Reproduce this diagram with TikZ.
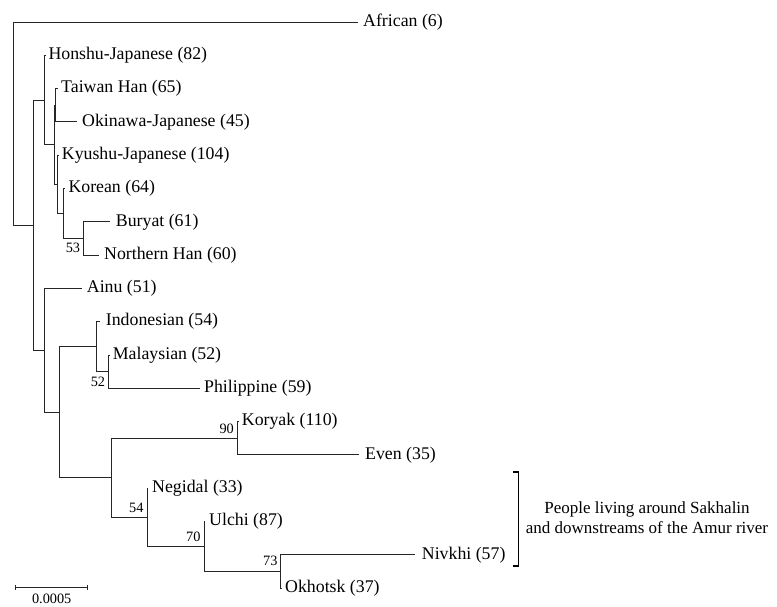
\documentclass[tikz,border=0pt]{standalone}
\usepackage{fontspec}
\setmainfont{Liberation Serif}
\begin{document}
\begin{tikzpicture}[x=1pt,y=-1pt,
  br/.style={draw=black!85, line width=0.9pt},
  leaf/.style={anchor=west, inner sep=0pt, font=\fontsize{17.8}{20}\selectfont},
  boot/.style={anchor=east, inner sep=0pt, font=\fontsize{14.3}{16}\selectfont},
  note/.style={align=center, inner sep=0pt, font=\fontsize{17}{20}\selectfont},
]
\useasboundingbox (0,0) rectangle (777,606);
% internal nodes
\coordinate (R) at (13.3,123.6);
\coordinate (A) at (33,225.2);
\coordinate (B) at (44.5,100.05);
\coordinate (C) at (54,144.8);
\coordinate (D) at (55.5,105.25);
\coordinate (E) at (57.3,184.35);
\coordinate (Q) at (63.3,213.5);
\coordinate (P) at (83.3,238.45);
\coordinate (F) at (44.3,350.3);
\coordinate (G) at (59.3,412.25);
\coordinate (H) at (96,346.7);
\coordinate (I) at (108.3,371.65);
\coordinate (J) at (111,477.8);
\coordinate (K) at (237,438.25);
\coordinate (L) at (147,517.35);
\coordinate (M) at (204,546.5);
\coordinate (N) at (280.7,571.45);
% leaf tips
\coordinate (tAfr) at (358,22);
\coordinate (tHon) at (46,55.3);
\coordinate (tTai) at (57.5,88.6);
\coordinate (tOki) at (77.3,121.9);
\coordinate (tKyu) at (59,155.2);
\coordinate (tKor) at (65,188.5);
\coordinate (tBur) at (110,221.8);
\coordinate (tNHa) at (99.3,255.1);
\coordinate (tAin) at (81.7,288.4);
\coordinate (tInd) at (100,321.7);
\coordinate (tMal) at (109.5,355);
\coordinate (tPhi) at (200,388.3);
\coordinate (tKry) at (238.5,421.6);
\coordinate (tEve) at (359,454.9);
\coordinate (tNeg) at (148.3,488.2);
\coordinate (tUlc) at (205.3,521.5);
\coordinate (tNiv) at (415,554.8);
\coordinate (tOkh) at (281.5,588.1);
% leaf labels
\node[leaf] (lAfr) at (363,22) {African (6)};
\node[leaf] (lHon) at (48.3,55.3) {Honshu-Japanese (82)};
\node[leaf] (lTai) at (61,88.6) {Taiwan Han (65)};
\node[leaf] (lOki) at (82,121.9) {Okinawa-Japanese (45)};
\node[leaf] (lKyu) at (61.7,155.2) {Kyushu-Japanese (104)};
\node[leaf] (lKor) at (68.3,188.5) {Korean (64)};
\node[leaf] (lBur) at (115.7,221.8) {Buryat (61)};
\node[leaf] (lNHa) at (104,255.1) {Northern Han (60)};
\node[leaf] (lAin) at (86.7,288.4) {Ainu (51)};
\node[leaf] (lInd) at (105.7,321.7) {Indonesian (54)};
\node[leaf] (lMal) at (112.7,355) {Malaysian (52)};
\node[leaf] (lPhi) at (204,388.3) {Philippine (59)};
\node[leaf] (lKry) at (241.7,421.6) {Koryak (110)};
\node[leaf] (lEve) at (365,454.9) {Even (35)};
\node[leaf] (lNeg) at (152,488.2) {Negidal (33)};
\node[leaf] (lUlc) at (209,521.5) {Ulchi (87)};
\node[leaf] (lNiv) at (421.7,554.8) {Nivkhi (57)};
\node[leaf] (lOkh) at (285,588.1) {Okhotsk (37)};
% branches
\draw[br] (R) |- (tAfr);
\draw[br] (R) |- (A);
\draw[br] (A) |- (B);
\draw[br] (A) |- (F);
\draw[br] (B) |- (tHon);
\draw[br] (B) |- (C);
\draw[br] (C) |- (D);
\draw[br] (C) |- (E);
\draw[br] (D) |- (tTai);
\draw[br] (D) |- (tOki);
\draw[br] (E) |- (tKyu);
\draw[br] (E) |- (Q);
\draw[br] (Q) |- (tKor);
\draw[br] (Q) |- (P);
\draw[br] (P) |- (tBur);
\draw[br] (P) |- (tNHa);
\draw[br] (F) |- (tAin);
\draw[br] (F) |- (G);
\draw[br] (G) |- (H);
\draw[br] (G) |- (J);
\draw[br] (H) |- (tInd);
\draw[br] (H) |- (I);
\draw[br] (I) |- (tMal);
\draw[br] (I) |- (tPhi);
\draw[br] (J) |- (K);
\draw[br] (J) |- (L);
\draw[br] (K) |- (tKry);
\draw[br] (K) |- (tEve);
\draw[br] (L) |- (tNeg);
\draw[br] (L) |- (M);
\draw[br] (M) |- (tUlc);
\draw[br] (M) |- (N);
\draw[br] (N) |- (tNiv);
\draw[br] (N) |- (tOkh);
% bootstrap values
\node[boot] (b53) at (80.3,247.5) {53};
\node[boot] (b52) at (105.3,381.5) {52};
\node[boot] (b90) at (234,429.3) {90};
\node[boot] (b54) at (143.7,507.5) {54};
\node[boot] (b70) at (200.6,536.7) {70};
\node[boot] (b73) at (277.7,561) {73};
% scale bar
\coordinate (s1) at (15.7,587.7);
\coordinate (s2) at (87.7,587.7);
\draw[br] (s1) -- (s2);
\draw[br] ([yshift=-2.3pt]s1) -- ([yshift=2.3pt]s1);
\draw[br] ([yshift=-2.3pt]s2) -- ([yshift=2.3pt]s2);
\node[boot, anchor=center] (sl) at (51.7,598.5) {0.0005};
% bracket
\coordinate (bt) at (518.5,472);
\coordinate (bb) at (518.5,566);
\draw[black, line width=1.4pt] ([xshift=-5.5pt]bt) -- (bt) -- (bb) -- ([xshift=-5.5pt]bb);
\node[note] (grp) at (647,518) {People living around Sakhalin\\and downstreams of the Amur river};
\end{tikzpicture}
\end{document}
